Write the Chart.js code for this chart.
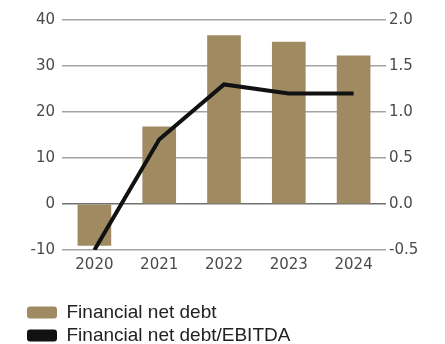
<!DOCTYPE html>
<html>
<head>
<meta charset="utf-8">
<script src="https://cdn.jsdelivr.net/npm/chart.js@4.4.1/dist/chart.umd.min.js"></script>
<style>
html, body { margin: 0; padding: 0; background: #fff; }
#wrap { width: 445px; height: 344px; }
</style>
</head>
<body>
<div id="wrap"><canvas id="debtChart" width="445" height="344"></canvas></div>
<script>
// net debt (left axis) and net debt / EBITDA ratio (right axis)
const years = ["2020", "2021", "2022", "2023", "2024"]
const netDebt = [-9.0, 16.8, 36.6, 35.2, 32.2]
const debtToEbitda = [-0.5, 0.7, 1.3, 1.2, 1.2]

const leftMin = -10, leftMax = 40, leftStep = 10
const rightMin = -0.5, rightMax = 2.0, rightStep = 0.5

const seriesNames = ["Financial net debt", "Financial net debt/EBITDA"]

const barColor = "#9f8a62"
const lineColor = "#111111"
const tickColor = "#4a4a4a"
const tickFont = { family: "DejaVu Sans", size: 15 }

const ctx = document.getElementById("debtChart")

new Chart(ctx, {
  data: {
    labels: years,
    datasets: [
      {
        type: "bar",
        label: seriesNames[0],
        data: netDebt,
        backgroundColor: barColor,
        barThickness: 33,
        yAxisID: "y",
        order: 2
      },
      {
        type: "line",
        label: seriesNames[1],
        data: debtToEbitda,
        borderColor: lineColor,
        backgroundColor: lineColor,
        borderWidth: 4,
        pointRadius: 0,
        tension: 0,
        yAxisID: "y1",
        order: 1
      }
    ]
  },
  options: {
    responsive: false,
    animation: false,
    layout: { padding: { left: 23, right: 0, top: 20, bottom: -11 } },
    plugins: {
      tooltip: { enabled: false },
      legend: {
        position: "bottom",
        align: "start",
        labels: {
          boxWidth: 30,
          boxHeight: 12,
          useBorderRadius: true,
          borderRadius: 3,
          padding: 4,
          color: "#222",
          font: { family: "Liberation Sans", size: 19 },
          generateLabels(chart) {
            const items = Chart.defaults.plugins.legend.labels.generateLabels(chart)
            items.forEach(it => { it.lineWidth = 0 })
            return items.sort((a, b) => a.datasetIndex - b.datasetIndex)
          }
        }
      }
    },
    scales: {
      x: {
        grid: { display: false, drawTicks: false },
        border: { display: false },
        ticks: { color: tickColor, font: tickFont, padding: 6, maxRotation: 0 },
        afterFit(scale) { scale.height += 19 }
      },
      y: {
        position: "left",
        min: leftMin,
        max: leftMax,
        border: { display: false },
        grid: {
          drawTicks: false,
          lineWidth: 1.5,
          color: c => c.tick && c.tick.value === 0 ? "#707070" : "#a3a3a3"
        },
        ticks: { stepSize: leftStep, color: tickColor, font: tickFont, padding: 7 },
        afterFit(scale) { scale.width = 39 }
      },
      y1: {
        position: "right",
        min: rightMin,
        max: rightMax,
        border: { display: false },
        grid: { drawOnChartArea: false, drawTicks: false },
        ticks: {
          stepSize: rightStep,
          color: tickColor,
          font: tickFont,
          padding: 3,
          callback: v => v.toFixed(1)
        },
        afterFit(scale) { scale.width = 59 }
      }
    }
  }
})
</script>
</body>
</html>
